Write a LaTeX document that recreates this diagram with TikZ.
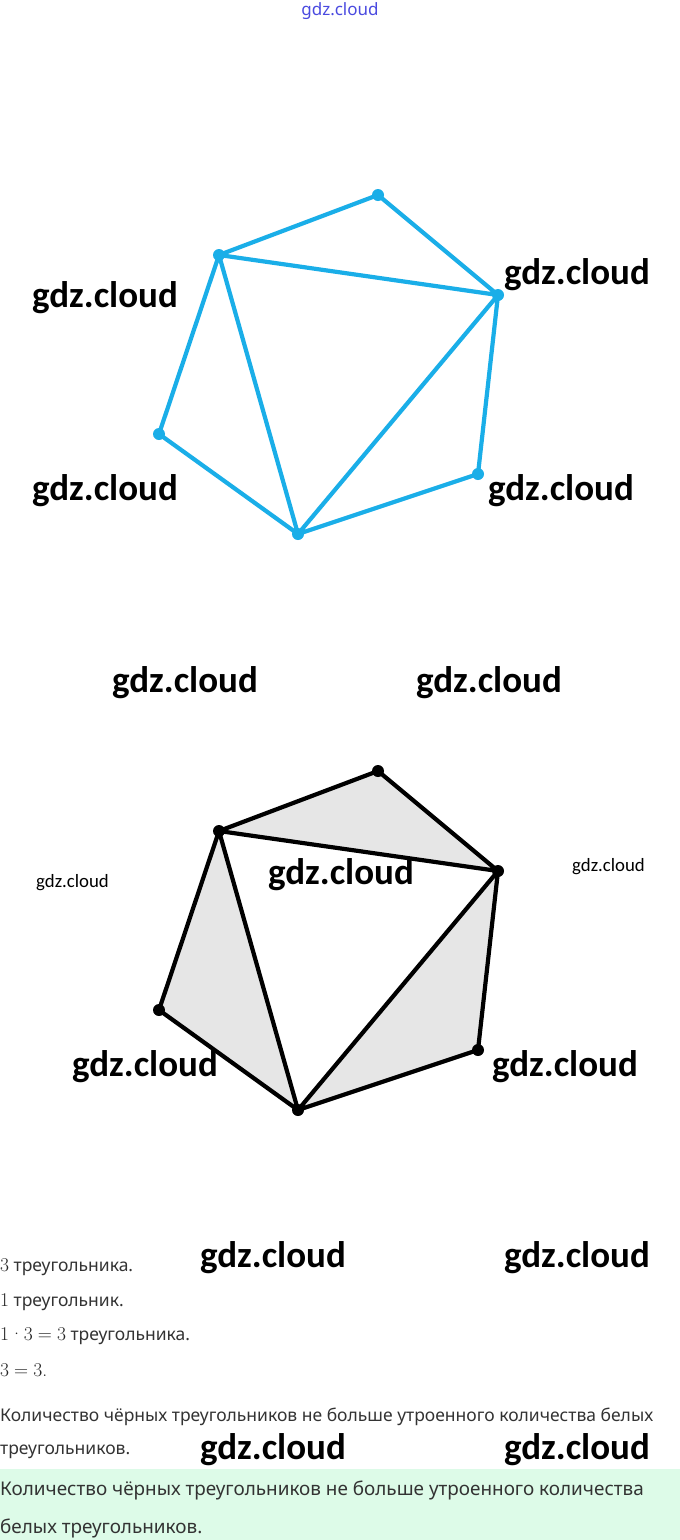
\documentclass[tikz,border=0pt]{standalone}
\usepackage{fontspec}
\setmainfont{Noto Sans}
\newfontfamily\wmfont{Carlito}
\newfontfamily\lmrfont{Latin Modern Roman}
\newcommand{\lmr}{\lmrfont\fontsize{19.5}{21}\selectfont\color{black!85}}
\newcommand{\mop}[1]{\hspace{0.02em}#1\hspace{0.02em}}
\newcommand{\mrel}[1]{\hspace{0.26em}#1\hspace{0.26em}}
\begin{document}
\begin{tikzpicture}[x=1pt,y=-1pt,
  wm/.style={font=\wmfont\bfseries\fontsize{37}{42}\selectfont, anchor=west, inner sep=0pt},
  wms/.style={font=\wmfont\fontsize{18.8}{22}\selectfont, anchor=west, inner sep=0pt},
  bedge/.style={line width=4.2pt, draw=skyb, line cap=round, line join=round},
  kedge/.style={line width=4.2pt, draw=black, line cap=round, line join=round},
  bdot/.style={circle, fill=skyb, inner sep=0pt, minimum size=12pt},
  kdot/.style={circle, fill=black, inner sep=0pt, minimum size=12pt},
  txt/.style={font=\fontsize{17.5}{21}\selectfont, text=txtc, anchor=west, inner sep=0pt},
  txtb/.style={font=\fontsize{18.9}{22}\selectfont, text=txtc, anchor=west, inner sep=0pt}]
\definecolor{skyb}{HTML}{1AAEE8}
\definecolor{greyfill}{HTML}{E6E6E6}
\definecolor{txtc}{HTML}{333333}
\definecolor{mint}{HTML}{DDFBE8}
\definecolor{wmblue}{HTML}{4A4AE0}
\useasboundingbox (0,0) rectangle (680,1540);
\fill[white] (0,0) rectangle (680,1540);
\fill[mint] (0,1469) rectangle (680,1540);

% top watermark
\node[font=\fontsize{17}{20}\selectfont, text=wmblue, inner sep=0pt] (wtop) at (340,11) {gdz.cloud};

% blue figure
\coordinate (aT) at (378,195);
\coordinate (aUL) at (219,255);
\coordinate (aR) at (498,295);
\coordinate (aL) at (159,434);
\coordinate (aBR) at (478,474);
\coordinate (aB) at (298,534);
\draw[bedge] (aUL) -- (aT) -- (aR) -- (aBR) -- (aB) -- (aL) -- (aUL) -- (aR) -- (aB) -- (aUL);
\foreach \p in {aT,aUL,aR,aL,aBR,aB} \node[bdot] at (\p) {};

% black figure
\coordinate (bT) at (378,771);
\coordinate (bUL) at (219,831);
\coordinate (bR) at (498,871);
\coordinate (bL) at (159,1010);
\coordinate (bBR) at (478,1050);
\coordinate (bB) at (298,1110);
\fill[greyfill] (bUL) -- (bT) -- (bR) -- cycle;
\fill[greyfill] (bUL) -- (bL) -- (bB) -- cycle;
\fill[greyfill] (bR) -- (bBR) -- (bB) -- cycle;
\draw[kedge] (bUL) -- (bT) -- (bR) -- (bBR) -- (bB) -- (bL) -- (bUL) -- (bR) -- (bB) -- (bUL);
\foreach \p in {bT,bUL,bR,bL,bBR,bB} \node[kdot] at (\p) {};

% watermarks
\node[wm] (w1) at (32,298) {gdz.cloud};
\node[wm] (w2) at (504,275) {gdz.cloud};
\node[wm] (w3) at (32,491) {gdz.cloud};
\node[wm] (w4) at (488,491) {gdz.cloud};
\node[wm] (w5) at (112,683) {gdz.cloud};
\node[wm] (w6) at (416,683) {gdz.cloud};
\node[wms] (w7) at (36,883) {gdz.cloud};
\node[wm] (w8) at (268,875) {gdz.cloud};
\node[wms] (w9) at (572,867) {gdz.cloud};
\node[wm] (w10) at (72,1067) {gdz.cloud};
\node[wm] (w11) at (492,1067) {gdz.cloud};

% text
\node[txt] (t1) at (0,1267) {{\lmr 3} треугольника.};
\node[txt] (t2) at (0,1302) {{\lmr 1} треугольник.};
\node[txt] (t3) at (0,1336) {{\lmr 1\mop{·}3\mrel{=}3} треугольника.};
\node[txt] (t4) at (0,1370) {{\lmr 3\mrel{=}3.}};
\node[txt] (t5) at (0,1417) {Количество чёрных треугольников не больше утроенного количества белых};
\node[txt] (t6) at (0,1452) {треугольников.};
\node[txtb] (t7) at (0,1490) {Количество чёрных треугольников не больше утроенного количества};
\node[txtb] (t8) at (0,1528) {белых треугольников.};

\node[wm] (w12) at (200,1258) {gdz.cloud};
\node[wm] (w13) at (504,1258) {gdz.cloud};
\node[wm] (w14) at (200,1450) {gdz.cloud};
\node[wm] (w15) at (504,1450) {gdz.cloud};
\end{tikzpicture}
\end{document}
